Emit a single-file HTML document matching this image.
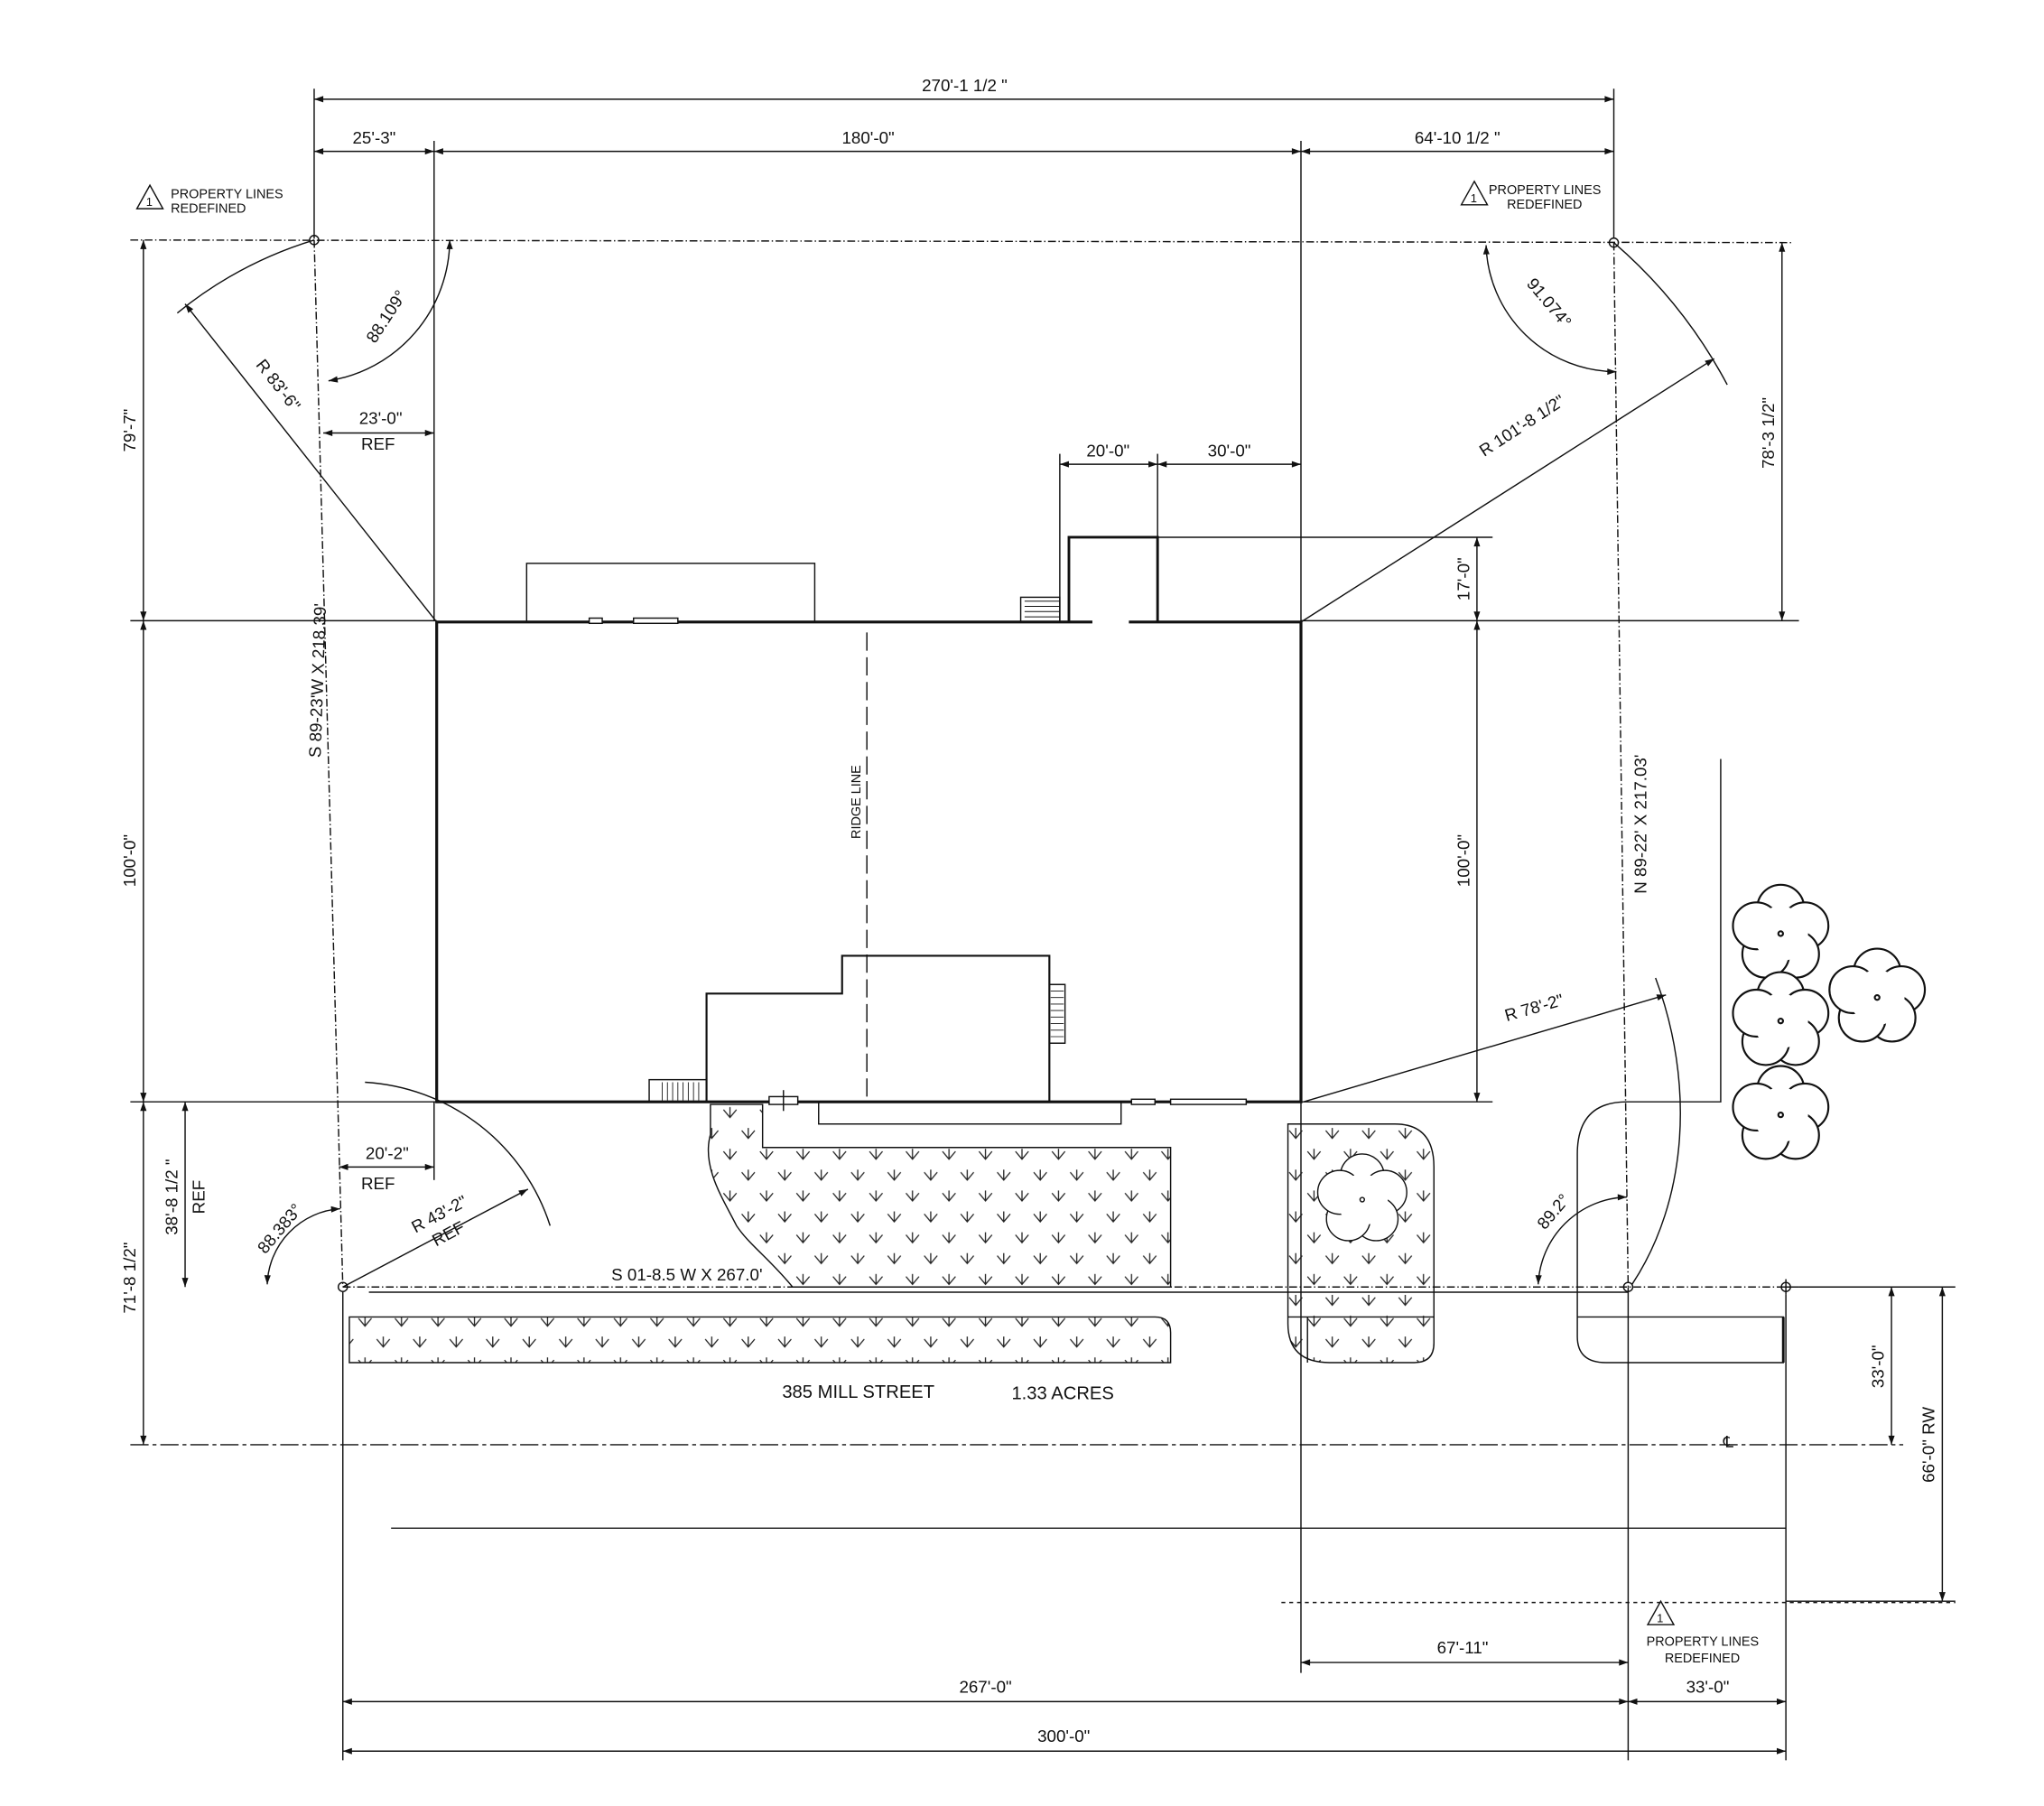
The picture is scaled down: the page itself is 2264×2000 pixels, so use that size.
<!DOCTYPE html>
<html><head><meta charset="utf-8"><style>
html,body{margin:0;padding:0;background:#fff;}
svg{display:block;}
text{font-family:"Liberation Sans",Arial,sans-serif;font-size:13px;fill:#111;}
</style></head><body>
<svg width="2264" height="2000" viewBox="0 0 1568 1385" xmlns="http://www.w3.org/2000/svg">
<defs>
<marker id="a" viewBox="0 0 10 10" refX="10" refY="5" markerWidth="9" markerHeight="7" orient="auto-start-reverse" markerUnits="userSpaceOnUse"><path d="M0,1.5 L10,5 L0,8.5 z" fill="#111"/></marker>
<pattern id="h" width="28" height="32" patternUnits="userSpaceOnUse">
<g stroke="#222" stroke-width="0.9" fill="none"><path d="M9,3 l5,6 l5,-6 M14,1 v8"/><path d="M-5,19 l5,6 l5,-6 M0,17 v8 M23,19 l5,6 l5,-6 M28,17 v8"/></g>
</pattern>
</defs>
<g stroke="#111" stroke-width="1" fill="none">
<line x1="241" y1="76" x2="1238" y2="76" marker-start="url(#a)" marker-end="url(#a)"/>
<line x1="241" y1="116" x2="333" y2="116" marker-start="url(#a)" marker-end="url(#a)"/>
<line x1="333" y1="116" x2="998" y2="116" marker-start="url(#a)" marker-end="url(#a)"/>
<line x1="998" y1="116" x2="1238" y2="116" marker-start="url(#a)" marker-end="url(#a)"/>
<line x1="241" y1="68" x2="241" y2="183"/>
<line x1="1238" y1="68" x2="1238" y2="183"/>
<line x1="333" y1="108" x2="333" y2="476"/>
<line x1="998" y1="108" x2="998" y2="1283"/>
<line x1="100" y1="184" x2="1375" y2="186" stroke-dasharray="6 2 1 2"/>
<line x1="241" y1="184" x2="263" y2="987" stroke-dasharray="6 2 1 2"/>
<line x1="1238" y1="186" x2="1249" y2="987" stroke-dasharray="6 2 1 2"/>
<line x1="263" y1="987" x2="1380" y2="987" stroke-dasharray="6 2 1 2"/>
<line x1="283" y1="991" x2="1249" y2="991"/>
<circle cx="241" cy="184" r="3.5"/><circle cx="1238" cy="186" r="3.5"/><circle cx="263" cy="987" r="3.5"/><circle cx="1249" cy="987" r="3.5"/>
<circle cx="1370" cy="987" r="3.5"/><line x1="1364" y1="987" x2="1376" y2="987"/><line x1="1370" y1="981" x2="1370" y2="993"/>
<line x1="100" y1="476" x2="335" y2="476"/>
<line x1="100" y1="845" x2="335" y2="845"/>
<line x1="110" y1="184" x2="110" y2="476" marker-start="url(#a)" marker-end="url(#a)"/>
<line x1="110" y1="476" x2="110" y2="845" marker-start="url(#a)" marker-end="url(#a)"/>
<line x1="110" y1="845" x2="110" y2="1108" marker-start="url(#a)" marker-end="url(#a)"/>
<line x1="142" y1="845" x2="142" y2="987" marker-start="url(#a)" marker-end="url(#a)"/>
<line x1="248" y1="332" x2="333" y2="332" marker-start="url(#a)" marker-end="url(#a)"/>
<line x1="260" y1="895" x2="333" y2="895" marker-start="url(#a)" marker-end="url(#a)"/>
<line x1="333" y1="845" x2="333" y2="905"/>
<line x1="888" y1="412" x2="1145" y2="412"/>
<line x1="998" y1="476" x2="1380" y2="476"/>
<line x1="998" y1="845" x2="1145" y2="845"/>
<line x1="1133" y1="412" x2="1133" y2="476" marker-start="url(#a)" marker-end="url(#a)"/>
<line x1="1133" y1="476" x2="1133" y2="845" marker-start="url(#a)" marker-end="url(#a)"/>
<line x1="1367" y1="186" x2="1367" y2="476" marker-start="url(#a)" marker-end="url(#a)"/>
<line x1="813" y1="356" x2="888" y2="356" marker-start="url(#a)" marker-end="url(#a)"/>
<line x1="888" y1="356" x2="998" y2="356" marker-start="url(#a)" marker-end="url(#a)"/>
<line x1="813" y1="348" x2="813" y2="412"/><line x1="888" y1="348" x2="888" y2="412"/>
<line x1="1451" y1="987" x2="1451" y2="1108" marker-start="url(#a)" marker-end="url(#a)"/>
<line x1="1490" y1="987" x2="1490" y2="1228" marker-start="url(#a)" marker-end="url(#a)"/>
<line x1="1380" y1="987" x2="1500" y2="987"/>
<line x1="1370" y1="1228" x2="1500" y2="1228"/>
<line x1="100" y1="1108" x2="1460" y2="1108" stroke-dasharray="14 3 3 3"/>
<line x1="300" y1="1172" x2="1370" y2="1172"/>
<line x1="983" y1="1229" x2="1500" y2="1229" stroke-dasharray="3 3"/>
<line x1="263" y1="991" x2="263" y2="1350"/>
<line x1="1249" y1="987" x2="1249" y2="1350"/>
<line x1="1370" y1="993" x2="1370" y2="1350"/>
<line x1="998" y1="1275" x2="1249" y2="1275" marker-start="url(#a)" marker-end="url(#a)"/>
<line x1="263" y1="1305" x2="1249" y2="1305" marker-start="url(#a)" marker-end="url(#a)"/>
<line x1="1249" y1="1305" x2="1370" y2="1305" marker-start="url(#a)" marker-end="url(#a)"/>
<line x1="263" y1="1343" x2="1370" y2="1343" marker-start="url(#a)" marker-end="url(#a)"/>
<line x1="335" y1="477" x2="142" y2="233" marker-end="url(#a)"/>
<path d="M136,240 A308,308 0 0 1 241,184"/>
<line x1="998" y1="477" x2="1315" y2="275" marker-end="url(#a)"/>
<path d="M1238,186 A377,377 0 0 1 1325,295"/>
<line x1="263" y1="987" x2="405" y2="912" marker-end="url(#a)"/>
<path d="M280,830 A159,159 0 0 1 422,940"/>
<line x1="1000" y1="845" x2="1278" y2="763" marker-end="url(#a)"/>
<path d="M1270,750 C1300,830 1295,920 1252,985"/>
<path d="M345,184 A110,110 0 0 1 252,292" marker-start="url(#a)" marker-end="url(#a)"/>
<path d="M1140,188 A100,100 0 0 0 1240,285" marker-start="url(#a)" marker-end="url(#a)"/>
<path d="M205,985 A60,60 0 0 1 261,927" marker-start="url(#a)" marker-end="url(#a)"/>
<path d="M1180,985 A70,70 0 0 1 1248,918" marker-start="url(#a)" marker-end="url(#a)"/>
<path d="M838,477 H335 V845 H998 V477 H866" stroke-width="2.2"/>
<path d="M820,477 V412 H888 V477" stroke-width="2"/>
<line x1="813" y1="412" x2="813" y2="477"/>
<rect x="404" y="432" width="221" height="45"/>
<rect x="783" y="458" width="30" height="19"/>
<path d="M786,461h27M786,465h27M786,469h27M786,473h27" stroke-width="0.7"/>
<line x1="665" y1="485" x2="665" y2="845" stroke-dasharray="14 5"/>
<path d="M542,845 V762 H646 V733 H805 V845" stroke-width="1.5"/>
<path d="M805,755 H817 V800 H805" /><path d="M806,760h10M806,765h10M806,770h10M806,775h10M806,780h10M806,785h10M806,790h10M806,795h10" stroke-width="0.6"/>
<rect x="498" y="828" width="44" height="17"/><path d="M508,830v14M512,830v14M516,830v14M520,830v14M524,830v14M528,830v14M532,830v14M536,830v14" stroke-width="0.6"/>
<rect x="628" y="845" width="232" height="17"/>
<rect x="590" y="841" width="22" height="6" fill="#fff"/><line x1="601" y1="836" x2="601" y2="852"/>
<rect x="452" y="474" width="10" height="4" fill="#fff"/><rect x="486" y="474" width="34" height="4" fill="#fff"/>
<rect x="868" y="843" width="18" height="4" fill="#fff"/><rect x="898" y="843" width="58" height="4" fill="#fff"/>
<path d="M545,847 L585,847 L585,880 L898,880 L898,987 L608,987 C590,965 575,955 565,940 C555,920 538,895 545,870 Z" fill="url(#h)"/>
<path d="M268,1010 L886,1010 Q898,1010 898,1022 L898,1045 L268,1045 Z" fill="url(#h)"/>
<path d="M988,862 L1070,862 Q1100,862 1100,895 L1100,1030 Q1100,1045 1085,1045 L1020,1045 Q988,1045 988,1015 Z" fill="url(#h)"/>
<path d="M1003,1010 L1003,1045"/><line x1="988" y1="1010" x2="1100" y2="1010"/>
<path d="M1320,582 V845 H1248 Q1210,845 1210,885 V1025 Q1210,1045 1232,1045 H1368 V1010 H1210"/>
<line x1="1368" y1="1010" x2="1368" y2="1045" stroke-width="2"/>
</g>
<g stroke="#111" stroke-width="1" fill="#fff">
<g transform="translate(1366,716) scale(1.5)"><circle cx="0" cy="-13" r="12"/><circle cx="12.4" cy="-4" r="12"/><circle cx="7.6" cy="10.5" r="12"/><circle cx="-7.6" cy="10.5" r="12"/><circle cx="-12.4" cy="-4" r="12"/><circle r="14" stroke="none"/><circle r="1.2"/></g>
<g transform="translate(1366,783) scale(1.5)"><circle cx="0" cy="-13" r="12"/><circle cx="12.4" cy="-4" r="12"/><circle cx="7.6" cy="10.5" r="12"/><circle cx="-7.6" cy="10.5" r="12"/><circle cx="-12.4" cy="-4" r="12"/><circle r="14" stroke="none"/><circle r="1.2"/></g>
<g transform="translate(1440,765) scale(1.5)"><circle cx="0" cy="-13" r="12"/><circle cx="12.4" cy="-4" r="12"/><circle cx="7.6" cy="10.5" r="12"/><circle cx="-7.6" cy="10.5" r="12"/><circle cx="-12.4" cy="-4" r="12"/><circle r="14" stroke="none"/><circle r="1.2"/></g>
<g transform="translate(1366,855) scale(1.5)"><circle cx="0" cy="-13" r="12"/><circle cx="12.4" cy="-4" r="12"/><circle cx="7.6" cy="10.5" r="12"/><circle cx="-7.6" cy="10.5" r="12"/><circle cx="-12.4" cy="-4" r="12"/><circle r="14" stroke="none"/><circle r="1.2"/></g>
<g transform="translate(1045,920) scale(1.4)" stroke-width="0.7"><circle cx="0" cy="-13" r="12"/><circle cx="12.4" cy="-4" r="12"/><circle cx="7.6" cy="10.5" r="12"/><circle cx="-7.6" cy="10.5" r="12"/><circle cx="-12.4" cy="-4" r="12"/><circle r="14" stroke="none"/><circle r="1.2"/></g>
</g>
<g stroke="#111" fill="none" stroke-width="1">
<path d="M105,160 L115,142 L125,160 Z"/><path d="M1121,157 L1131,139 L1141,157 Z"/><path d="M1264,1246 L1274,1228 L1284,1246 Z"/>
</g>
<text x="112" y="158" style="font-size:9px">1</text><text x="1128" y="155" style="font-size:9px">1</text><text x="1271" y="1244" style="font-size:9px">1</text>
<text x="131" y="152" style="font-size:10px">PROPERTY LINES</text><text x="131" y="163" style="font-size:10px">REDEFINED</text>
<text x="1142" y="149" style="font-size:10px">PROPERTY LINES</text><text x="1156" y="160" style="font-size:10px">REDEFINED</text>
<text x="1263" y="1262" style="font-size:10px">PROPERTY LINES</text><text x="1277" y="1275" style="font-size:10px">REDEFINED</text>
<text x="740" y="70" text-anchor="middle">270'-1 1/2 "</text>
<text x="287" y="110" text-anchor="middle">25'-3"</text>
<text x="666" y="110" text-anchor="middle">180'-0"</text>
<text x="1118" y="110" text-anchor="middle">64'-10 1/2 "</text>
<text x="292" y="325" text-anchor="middle">23'-0"</text><text x="290" y="345" text-anchor="middle">REF</text>
<text x="297" y="889" text-anchor="middle">20'-2"</text><text x="290" y="912" text-anchor="middle">REF</text>
<text x="850" y="350" text-anchor="middle">20'-0"</text>
<text x="943" y="350" text-anchor="middle">30'-0"</text>
<text x="469" y="982">S 01-8.5 W X 267.0'</text>
<text x="600" y="1072" style="font-size:14px">385  MILL  STREET</text>
<text x="776" y="1073" style="font-size:14px">1.33 ACRES</text>
<text x="1122" y="1268" text-anchor="middle">67'-11"</text>
<text x="756" y="1298" text-anchor="middle">267'-0"</text>
<text x="1310" y="1298" text-anchor="middle">33'-0"</text>
<text x="816" y="1336" text-anchor="middle">300'-0"</text>
<text transform="translate(104,330) rotate(-90)" text-anchor="middle">79'-7"</text>
<text transform="translate(104,660) rotate(-90)" text-anchor="middle">100'-0"</text>
<text transform="translate(104,980) rotate(-90)" text-anchor="middle">71'-8 1/2"</text>
<text transform="translate(136,918) rotate(-90)" text-anchor="middle">38'-8 1/2 "</text>
<text transform="translate(157,918) rotate(-90)" text-anchor="middle">REF</text>
<text transform="translate(248,522) rotate(-88)" text-anchor="middle">S 89-23'W X 218.39'</text>
<text transform="translate(660,615) rotate(-90)" text-anchor="middle" style="font-size:10px">RIDGE LINE</text>
<text transform="translate(1127,444) rotate(-90)" text-anchor="middle">17'-0"</text>
<text transform="translate(1127,660) rotate(-90)" text-anchor="middle">100'-0"</text>
<text transform="translate(1263,632) rotate(-90)" text-anchor="middle">N 89-22' X 217.03'</text>
<text transform="translate(1361,332) rotate(-90)" text-anchor="middle">78'-3 1/2"</text>
<text transform="translate(1445,1048) rotate(-90)" text-anchor="middle">33'-0"</text>
<text transform="translate(1484,1108) rotate(-90)" text-anchor="middle">66'-0" RW</text>
<text transform="translate(210,298) rotate(52)" text-anchor="middle">R 83'-6"</text>
<text transform="translate(300,245) rotate(-57)" text-anchor="middle">88.109°</text>
<text transform="translate(1185,235) rotate(50)" text-anchor="middle">91.074°</text>
<text transform="translate(1170,330) rotate(-33)" text-anchor="middle">R 101'-8 1/2"</text>
<text transform="translate(1178,777) rotate(-16)" text-anchor="middle">R 78'-2"</text>
<text transform="translate(339,935) rotate(-28)" text-anchor="middle">R 43'-2"</text>
<text transform="translate(346,950) rotate(-28)" text-anchor="middle">REF</text>
<text transform="translate(218,945) rotate(-50)" text-anchor="middle">88.383°</text>
<text transform="translate(1195,932) rotate(-50)" text-anchor="middle">89.2°</text>
<text x="1322" y="1110" style="font-size:12px">℄</text>
</svg>
</body></html>
